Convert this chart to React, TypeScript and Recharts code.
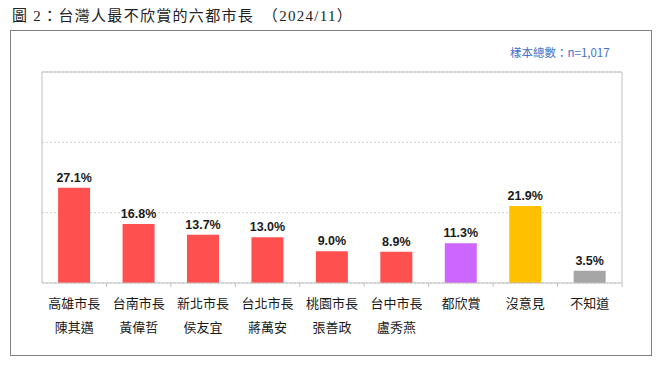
import React from 'react';
import {
  BarChart,
  Bar,
  XAxis,
  YAxis,
  CartesianGrid,
  ReferenceLine,
  LabelList,
  Cell,
} from 'recharts';

const nameLine1 = ['高雄市長', '台南市長', '新北市長', '台北市長', '桃園市長', '台中市長', '都欣賞', '沒意見', '不知道'];
const nameLine2 = ['陳其邁', '黃偉哲', '侯友宜', '蔣萬安', '張善政', '盧秀燕', '', '', ''];
const percents = [27.1, 16.8, 13.7, 13.0, 9.0, 8.9, 11.3, 21.9, 3.5];
const barColors = ['#FF5050', '#FF5050', '#FF5050', '#FF5050', '#FF5050', '#FF5050', '#CC66FF', '#FFC000', '#A6A6A6'];
const yTicks = [0, 20, 40, 60];

const data = nameLine1.map((name, i) => ({
  name,
  sub: nameLine2[i],
  value: percents[i],
}));

const cjk = '"Noto Sans CJK TC", "Noto Sans CJK SC", sans-serif';

const CategoryTick = (props: any) => {
  const { x, y, payload, index } = props;
  const half = payload && payload.offset ? payload.offset : 32;
  const row = data[index] || { name: payload.value, sub: '' };
  return (
    <g>
      <line x1={x + half} y1={y} x2={x + half} y2={y + 4} stroke="#bfbfbf" />
      <text x={x} y={y + 25} textAnchor="middle" fontSize={13} fill="#1a1a1a" fontFamily={cjk}>
        {row.name}
      </text>
      {row.sub ? (
        <text x={x} y={y + 49} textAnchor="middle" fontSize={13} fill="#1a1a1a" fontFamily={cjk}>
          {row.sub}
        </text>
      ) : null}
    </g>
  );
};

const NoTick = () => <g />;

const App: React.FC = () => {
  return (
    <div style={{ position: 'absolute', left: 0, top: 0, width: 660, height: 365, background: '#fff' }}>
      <div
        style={{
          position: 'absolute',
          left: 12,
          top: 4,
          fontFamily: '"Liberation Serif", "Noto Sans CJK TC", serif',
          fontSize: 15,
          letterSpacing: 1.3,
          color: '#222',
          whiteSpace: 'pre',
        }}
      >
        圖 2：台灣人最不欣賞的六都市長　（2024/11）
      </div>
      <div
        style={{
          position: 'absolute',
          left: 10,
          top: 30,
          width: 640,
          height: 324,
          border: '1.5px solid #808080',
        }}
      />
      <div
        style={{
          position: 'absolute',
          left: 510,
          top: 44,
          fontFamily: cjk,
          fontSize: 11.5,
          color: '#4472C4',
          whiteSpace: 'pre',
        }}
      >
        樣本總數：n=1,017
      </div>
      <div style={{ position: 'absolute', left: 0, top: 0 }}>
        <BarChart
          width={660}
          height={365}
          data={data}
          margin={{ top: 72, right: 37, left: 41, bottom: 32 }}
          barCategoryGap="25%"
        >
          <CartesianGrid vertical={false} stroke="#d0d0d0" strokeDasharray="2 2" />
          <XAxis
            dataKey="name"
            height={50}
            interval={0}
            tickLine={false}
            tickSize={0}
            tickMargin={0}
            axisLine={{ stroke: '#bfbfbf' }}
            tick={<CategoryTick />}
          />
          <YAxis
            width={1}
            domain={[0, 60]}
            ticks={yTicks}
            tick={<NoTick />}
            tickLine={false}
            axisLine={{ stroke: '#bfbfbf' }}
          />
          <YAxis
            yAxisId="right"
            orientation="right"
            width={1}
            domain={[0, 60]}
            ticks={yTicks}
            tick={<NoTick />}
            tickLine={false}
            axisLine={{ stroke: '#bfbfbf' }}
          />
          <ReferenceLine y={60} stroke="#bfbfbf" />
          <Bar dataKey="value" isAnimationActive={false}>
            {data.map((d, i) => (
              <Cell key={d.name} fill={barColors[i]} />
            ))}
            <LabelList
              dataKey="value"
              position="top"
              offset={6}
              formatter={(v: any) => `${Number(v).toFixed(1)}%`}
              style={{
                fontFamily: '"Liberation Sans", Arial, sans-serif',
                fontWeight: 'bold',
                fontSize: 12.5,
                fill: '#1a1a1a',
              }}
            />
          </Bar>
        </BarChart>
      </div>
    </div>
  );
};

export default App;
